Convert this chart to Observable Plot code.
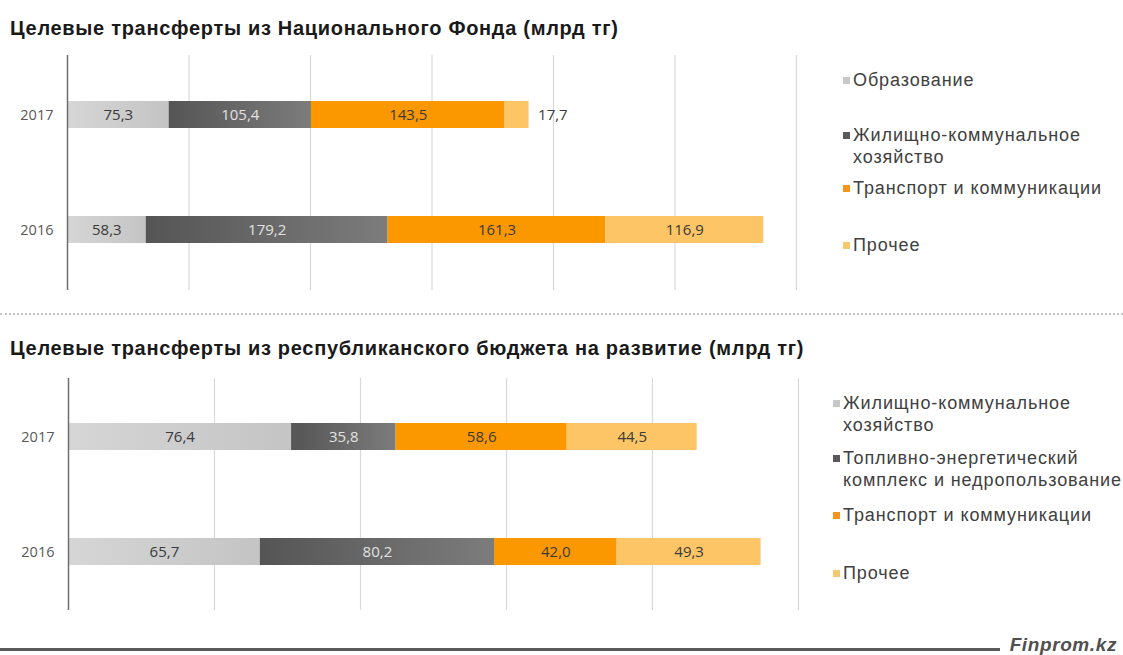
<!DOCTYPE html>
<html>
<head>
<meta charset="utf-8">
<script src="https://cdn.jsdelivr.net/npm/d3@7"></script>
<script src="https://cdn.jsdelivr.net/npm/@observablehq/plot@0.6"></script>
<style>
  html, body { margin: 0; padding: 0; background: #fff; }
  #root { position: relative; width: 1123px; height: 655px; overflow: hidden; background: #fff;
          font-family: "Liberation Sans", Arial, sans-serif; }
  .title { position: absolute; left: 10px; font-weight: bold; font-size: 20px; letter-spacing: 0.7px; color: #1a1a1a; white-space: nowrap; line-height: 24px; }
  .chart { position: absolute; left: 0; }
  .leg { position: absolute; font-size: 18px; letter-spacing: 0.9px; color: #404040; white-space: nowrap; line-height: 22px; }
  .sw { position: absolute; width: 7px; height: 7px; }
  #sep { position: absolute; left: 0; top: 313px; width: 1123px; border-top: 2px dotted #c4c4c4; }
  #bottomline { position: absolute; left: 0; top: 648px; width: 1000px; height: 3px; background: #5a5a5a; }
  #brand { position: absolute; right: 6px; top: 635px; font-style: italic; font-weight: bold; font-size: 19px; letter-spacing: 0.6px; line-height: 20px; color: #505050; }
</style>
</head>
<body>
<svg width="0" height="0" style="position:absolute">
  <defs>
    <linearGradient id="gLight" x1="0" x2="1" y1="0" y2="0">
      <stop offset="0" stop-color="#d6d6d6"/><stop offset="1" stop-color="#c4c4c4"/>
    </linearGradient>
    <linearGradient id="gDark" x1="0" x2="1" y1="0" y2="0">
      <stop offset="0" stop-color="#555555"/><stop offset="1" stop-color="#7c7c7c"/>
    </linearGradient>
  </defs>
</svg>
<div id="root">
  <div class="title" id="t1" style="top:16px">Целевые трансферты из Национального Фонда (млрд тг)</div>
  <div class="chart" id="c1" style="top:50px"></div>
  <div id="sep"></div>
  <div class="title" id="t2" style="top:336px">Целевые трансферты из республиканского бюджета на развитие (млрд тг)</div>
  <div class="chart" id="c2" style="top:373px"></div>
  <div id="bottomline"></div>
  <div id="brand">Finprom.kz</div>
</div>
<script>
// ---------- Data ----------
const years = ["2017", "2016"];

const cats1 = ["Образование", "Жилищно-коммунальное хозяйство", "Транспорт и коммуникации", "Прочее"];
const vals1_2017 = [75.3, 105.4, 143.5, 17.7];
const vals1_2016 = [58.3, 179.2, 161.3, 116.9];

const cats2 = ["Жилищно-коммунальное хозяйство", "Топливно-энергетический комплекс и недропользование", "Транспорт и коммуникации", "Прочее"];
const vals2_2017 = [76.4, 35.8, 58.6, 44.5];
const vals2_2016 = [65.7, 80.2, 42.0, 49.3];

const legend1Lines = [["Образование"], ["Жилищно-коммунальное", "хозяйство"], ["Транспорт и коммуникации"], ["Прочее"]];
const legend2Lines = [["Жилищно-коммунальное", "хозяйство"], ["Топливно-энергетический", "комплекс и недропользование"], ["Транспорт и коммуникации"], ["Прочее"]];

const xTicks1 = [0, 90, 180, 270, 360, 450, 540];
const xTicks2 = [0, 50, 100, 150, 200, 250];

// ---------- Styles ----------
const fills = ["url(#gLight)", "url(#gDark)", "#fb9800", "#fdc565"];
const swatch = ["#c8c8c8", "#5a5a5a", "#f7941d", "#f8c66c"];
const labelDark = "#3a3a3a";
const labelLight = "#e2e2e2";

function rows(cats, v2017, v2016) {
  const out = [];
  cats.forEach((c, i) => out.push({year: "2017", cat: c, idx: i, value: v2017[i]}));
  cats.forEach((c, i) => out.push({year: "2016", cat: c, idx: i, value: v2016[i]}));
  return out;
}
const fmt = v => d3.format(".1f")(v).replace(".", ",");

function chart({data, cats, domain, ticks, width, marginLeft, marginRight, height, pInner, pOuter, small}) {
  const stackOpts = {x: "value", y: "year", z: "cat", order: cats};
  return Plot.plot({
    width, height, marginLeft, marginRight, marginTop: 5, marginBottom: 5,
    style: {fontFamily: "'Open Sans', 'Liberation Sans', sans-serif", background: "transparent"},
    x: {domain, axis: null},
    y: {domain: years, paddingInner: pInner, paddingOuter: pOuter, axis: null},
    color: {domain: cats, range: fills},
    marks: [
      Plot.ruleX(ticks.slice(1), {stroke: "#d9d9d9", strokeWidth: 1.2}),
      Plot.barX(data, Plot.stackX({...stackOpts, fill: "cat"})),
      Plot.ruleX([0], {stroke: "#6e6e6e", strokeWidth: 1.5}),
      Plot.axisY({tickSize: 0, tickPadding: 14, fontSize: 14.5, color: "#595959", label: null}),
      Plot.text(data, Plot.stackX({...stackOpts,
        text: d => (d.idx !== 1 && d.value >= small) ? fmt(d.value) : "",
        fill: labelDark, fontSize: 15})),
      Plot.text(data, Plot.stackX({...stackOpts,
        text: d => (d.idx === 1) ? fmt(d.value) : "",
        fill: labelLight, fontSize: 15})),
      Plot.text(data, Plot.stackX2({...stackOpts,
        text: d => (d.value < small) ? fmt(d.value) : "",
        fill: labelDark, fontSize: 15, textAnchor: "start", dx: 9}))
    ]
  });
}

const data1 = rows(cats1, vals1_2017, vals1_2016);
const data2 = rows(cats2, vals2_2017, vals2_2016);

document.getElementById("c1").appendChild(chart({
  data: data1, cats: cats1, domain: [0, 540], ticks: xTicks1,
  width: 830, marginLeft: 67, marginRight: 34, height: 245, pInner: 0.765, pOuter: 0.4, small: 30
}));
document.getElementById("c2").appendChild(chart({
  data: data2, cats: cats2, domain: [0, 250], ticks: xTicks2,
  width: 830, marginLeft: 68, marginRight: 32, height: 242, pInner: 0.765, pOuter: 0.39, small: 30
}));

// ---------- Legends ----------
const root = document.getElementById("root");
function legend(lines, centers, swX, textX) {
  lines.forEach((ls, i) => {
    const sw = document.createElement("div");
    sw.className = "sw";
    sw.style.left = swX + "px";
    sw.style.top = (centers[i] - 3.5) + "px";
    sw.style.background = swatch[i];
    root.appendChild(sw);
    const t = document.createElement("div");
    t.className = "leg";
    t.style.left = textX + "px";
    t.style.top = (centers[i] - 11) + "px";
    t.innerHTML = ls.join("<br>");
    root.appendChild(t);
  });
}
legend(legend1Lines, [80, 135, 188, 245], 843, 853);
legend(legend2Lines, [403, 458, 515, 573], 833, 843);
</script>
</body>
</html>
